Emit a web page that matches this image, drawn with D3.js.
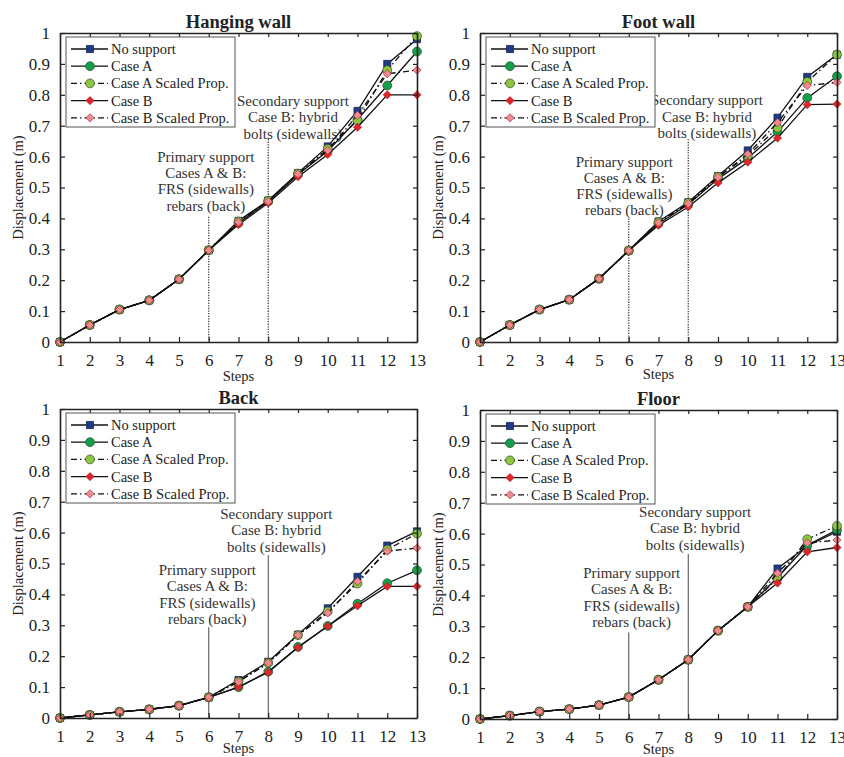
<!DOCTYPE html>
<html>
<head>
<meta charset="UTF-8" />
<title>Displacement by step</title>
<script src="https://cdn.jsdelivr.net/npm/d3@7"></script>
<style>
  body { margin: 0; background: #fff; }
  svg text { font-family: "Liberation Serif", "Times New Roman", serif; fill: #222; }
</style>
</head>
<body>
<svg id="chart" width="844" height="757"></svg>
<script>
// ---- data ----
const steps = [1, 2, 3, 4, 5, 6, 7, 8, 9, 10, 11, 12, 13];
const yTicks = [0, 0.1, 0.2, 0.3, 0.4, 0.5, 0.6, 0.7, 0.8, 0.9, 1];
const yTickLabels = ["0", "0.1", "0.2", "0.3", "0.4", "0.5", "0.6", "0.7", "0.8", "0.9", "1"];
const seriesNames = ["No support", "Case A", "Case A Scaled Prop.", "Case B", "Case B Scaled Prop."];
const panelTitles = ["Hanging wall", "Foot wall", "Back", "Floor"];
const primaryNote = ["Primary support", "Cases A & B:", "FRS (sidewalls)", "rebars (back)"];
const secondaryNote = ["Secondary support", "Case B: hybrid", "bolts (sidewalls)"];

// order of rows: No support, Case A, Case A Scaled Prop., Case B, Case B Scaled Prop.
const hangingWall = [
  [0, 0.055, 0.105, 0.135, 0.203, 0.297, 0.392, 0.458, 0.547, 0.633, 0.748, 0.900, 0.980],
  [0, 0.055, 0.105, 0.135, 0.203, 0.297, 0.385, 0.455, 0.542, 0.618, 0.720, 0.830, 0.940],
  [0, 0.055, 0.105, 0.135, 0.203, 0.297, 0.390, 0.457, 0.545, 0.625, 0.717, 0.880, 0.990],
  [0, 0.055, 0.105, 0.135, 0.203, 0.297, 0.380, 0.450, 0.535, 0.607, 0.695, 0.800, 0.800],
  [0, 0.055, 0.105, 0.135, 0.203, 0.297, 0.388, 0.455, 0.543, 0.620, 0.734, 0.868, 0.880]
];
const footWall = [
  [0, 0.055, 0.105, 0.137, 0.205, 0.296, 0.390, 0.452, 0.537, 0.620, 0.726, 0.858, 0.930],
  [0, 0.055, 0.105, 0.137, 0.205, 0.296, 0.383, 0.445, 0.528, 0.595, 0.680, 0.790, 0.860],
  [0, 0.055, 0.105, 0.137, 0.205, 0.296, 0.388, 0.450, 0.535, 0.602, 0.693, 0.842, 0.930],
  [0, 0.055, 0.105, 0.137, 0.205, 0.296, 0.378, 0.437, 0.515, 0.582, 0.660, 0.768, 0.770],
  [0, 0.055, 0.105, 0.137, 0.205, 0.296, 0.386, 0.448, 0.533, 0.608, 0.710, 0.830, 0.840]
];
const back = [
  [0, 0.010, 0.020, 0.028, 0.040, 0.067, 0.123, 0.182, 0.270, 0.355, 0.457, 0.558, 0.604],
  [0, 0.010, 0.020, 0.028, 0.040, 0.067, 0.100, 0.150, 0.230, 0.298, 0.370, 0.436, 0.478],
  [0, 0.010, 0.020, 0.028, 0.040, 0.067, 0.118, 0.178, 0.268, 0.345, 0.435, 0.545, 0.597],
  [0, 0.010, 0.020, 0.028, 0.040, 0.067, 0.100, 0.148, 0.228, 0.297, 0.363, 0.426, 0.426],
  [0, 0.010, 0.020, 0.028, 0.040, 0.067, 0.117, 0.178, 0.268, 0.340, 0.442, 0.540, 0.550]
];
const floor = [
  [0, 0.011, 0.024, 0.032, 0.045, 0.071, 0.127, 0.192, 0.286, 0.363, 0.487, 0.560, 0.606],
  [0, 0.011, 0.024, 0.032, 0.045, 0.071, 0.127, 0.192, 0.286, 0.363, 0.458, 0.562, 0.612],
  [0, 0.011, 0.024, 0.032, 0.045, 0.071, 0.127, 0.192, 0.286, 0.363, 0.455, 0.582, 0.625],
  [0, 0.011, 0.024, 0.032, 0.045, 0.071, 0.127, 0.192, 0.286, 0.363, 0.440, 0.541, 0.555],
  [0, 0.011, 0.024, 0.032, 0.045, 0.071, 0.127, 0.192, 0.286, 0.363, 0.472, 0.570, 0.579]
];

// ---- styles ----
let colors = ["#1f3b87", "#13a04c", "#8cc63f", "#e3232a", "#f08a92"];
let shapes = ["square", "circle", "circle", "diamond", "diamond"];
let dashes = [null, null, "6,3,1.5,3", null, "6,3,1.5,3"];

let plotW = 357;
let plotH = 309;

// position of each panel plus where the notes sit (in data units)
let panels = [
  { data: hangingWall, left: 60, top: 33, prim: [5.9, 0.6, 0.405], sec: [8.83, 0.78, 0.657], dotted: true, stepsDy: 34 },
  { data: footWall, left: 480, top: 33, prim: [5.85, 0.584, 0.40], sec: [8.63, 0.782, 0.656], dotted: true, stepsDy: 32 },
  { data: back, left: 60, top: 409, prim: [5.95, 0.479, 0.294], sec: [8.27, 0.66, 0.527], dotted: false, stepsDy: 30 },
  { data: floor, left: 480, top: 410, prim: [6.1, 0.472, 0.28], sec: [8.23, 0.67, 0.534], dotted: false, stepsDy: 30 }
];

let svg = d3.select("#chart");

function marker(sel, shape, color) {
  if (shape === "square") {
    sel.append("path").attr("d", d3.symbol(d3.symbolSquare, 50)())
      .attr("fill", color).attr("stroke", "#1a2347").attr("stroke-width", 0.8);
  } else if (shape === "circle") {
    sel.append("path").attr("d", d3.symbol(d3.symbolCircle, 62)())
      .attr("fill", color).attr("stroke", "#2f4a2f").attr("stroke-width", 0.7);
  } else {
    sel.append("path").attr("d", d3.symbol(d3.symbolSquare, 34)())
      .attr("transform", "rotate(45)")
      .attr("fill", color).attr("stroke", "#a3262c").attr("stroke-width", 0.6);
  }
}

panels.forEach((p, pi) => {
  let g = svg.append("g").attr("transform", `translate(${p.left},${p.top})`);

  let x = d3.scaleLinear().domain([1, 13]).range([0, plotW]);
  let y = d3.scaleLinear().domain([0, 1]).range([plotH, 0]);

  // title
  g.append("text")
    .attr("x", plotW / 2).attr("y", -5)
    .attr("text-anchor", "middle")
    .attr("font-size", 18.5).attr("font-weight", "bold")
    .text(panelTitles[pi]);

  // support notes
  [[p.prim, primaryNote, 6], [p.sec, secondaryNote, 8]].forEach(([pos, lines, step]) => {
    g.append("line")
      .attr("x1", x(step)).attr("x2", x(step))
      .attr("y1", y(pos[2])).attr("y2", y(0))
      .attr("stroke", "#333")
      .attr("stroke-width", p.dotted ? 1.2 : 0.9)
      .attr("stroke-dasharray", p.dotted ? "1.3,1.3" : null);
    lines.forEach((t, i) => {
      g.append("text")
        .attr("x", x(pos[0])).attr("y", y(pos[1]) + 5 + i * 16.3)
        .attr("text-anchor", "middle")
        .attr("font-size", 15).style("fill", "#333")
        .text(t);
    });
  });

  // series
  let line = d3.line().x((d, i) => x(steps[i])).y((d) => y(d));
  p.data.forEach((vals, si) => {
    g.append("path")
      .datum(vals)
      .attr("fill", "none")
      .attr("stroke", "#111")
      .attr("stroke-width", 1.3)
      .attr("stroke-dasharray", dashes[si])
      .attr("d", line);
    vals.forEach((v, i) => {
      let m = g.append("g").attr("transform", `translate(${x(steps[i])},${y(v)})`);
      marker(m, shapes[si], colors[si]);
    });
  });

  // axes (ticks pointing inward, box on)
  let bottom = g.append("g").attr("transform", `translate(0,${plotH})`)
    .call(d3.axisBottom(x).tickValues(steps).tickSizeInner(-5).tickSizeOuter(0).tickPadding(12));
  let left = g.append("g")
    .call(d3.axisLeft(y).tickValues(yTicks).tickFormat((d, i) => yTickLabels[i]).tickSizeInner(-5).tickSizeOuter(0).tickPadding(10));
  let top = g.append("g")
    .call(d3.axisTop(x).tickValues(steps).tickSizeInner(-4).tickSizeOuter(0).tickFormat(""));
  let right = g.append("g").attr("transform", `translate(${plotW},0)`)
    .call(d3.axisRight(y).tickValues(yTicks).tickSizeInner(-4).tickSizeOuter(0).tickFormat(""));

  [bottom, left, top, right].forEach((a) => {
    a.select(".domain").attr("stroke", "#222").attr("stroke-width", 1.6);
    a.selectAll(".tick line").attr("stroke", "#222").attr("stroke-width", 1.2);
    a.selectAll(".tick text").attr("font-size", 17).attr("font-family", null).style("fill", "#222");
  });

  // axis labels
  g.append("text")
    .attr("x", plotW / 2).attr("y", plotH + p.stepsDy + 5)
    .attr("text-anchor", "middle").attr("font-size", 14.5)
    .text("Steps");
  g.append("text")
    .attr("transform", `translate(${-37},${plotH / 2}) rotate(-90)`)
    .attr("text-anchor", "middle").attr("font-size", 14.5)
    .text("Displacement (m)");

  // legend
  let lg = g.append("g").attr("transform", "translate(6,4)");
  lg.append("rect")
    .attr("width", 169).attr("height", 90)
    .attr("fill", "#fff").attr("stroke", "#555").attr("stroke-width", 1);
  seriesNames.forEach((name, si) => {
    let row = lg.append("g").attr("transform", `translate(0,${12 + si * 17.2})`);
    row.append("line")
      .attr("x1", 5).attr("x2", 42)
      .attr("stroke", "#111").attr("stroke-width", 1.3)
      .attr("stroke-dasharray", dashes[si]);
    let m = row.append("g").attr("transform", "translate(24,0)");
    marker(m, shapes[si], colors[si]);
    row.append("text")
      .attr("x", 45).attr("y", 5)
      .attr("font-size", 14.5)
      .text(name);
  });
});
</script>
</body>
</html>
